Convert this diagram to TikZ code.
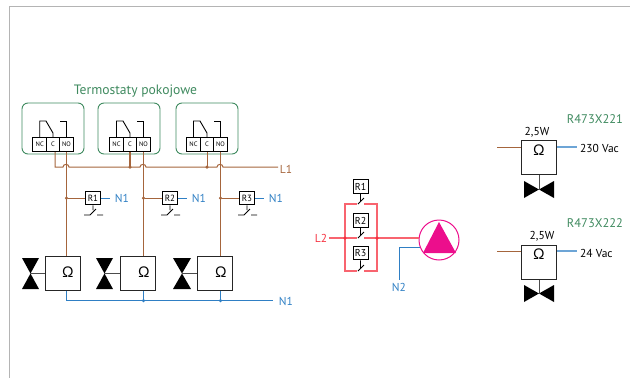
\documentclass[tikz,border=0pt]{standalone}
\usepackage{fontspec}
\setmainfont{PT Sans}
\definecolor{framegrey}{HTML}{B4B4B4}
\definecolor{thermgreen}{HTML}{3F8A5F}
\definecolor{wirebrown}{HTML}{A5653C}
\definecolor{wireblue}{HTML}{2F7FC4}
\definecolor{wirered}{HTML}{F5303F}
\definecolor{pumppink}{HTML}{EC0E8C}
\begin{document}
\begin{tikzpicture}
        [
            x = 1pt,
            y = -1pt,
            thermbox/.style  = {shape=rectangle, draw=thermgreen, line width=.9pt, rounded corners=6pt, minimum width=62pt, minimum height=51pt},
            terminal/.style  = {shape=rectangle, draw, line width=1pt, inner sep=0pt, minimum width=13.5pt, minimum height=14pt, font=\fontsize{6.5}{6.5}\selectfont},
            relay/.style     = {shape=rectangle, draw, line width=1pt, fill=white, inner sep=0pt, minimum width=14.5pt, minimum height=13.5pt, font=\fontsize{9.5}{9.5}\selectfont},
            actuator/.style  = {shape=rectangle, draw=black!85, line width=1pt, fill=white, inner sep=0pt, minimum width=35pt, minimum height=34pt},
            omega/.style     = {inner sep=0pt, font=\fontsize{15}{15}\selectfont},
            blabel/.style    = {inner sep=0pt, text=wirebrown, font=\fontsize{11.5}{11.5}\selectfont},
            nlabel/.style    = {inner sep=0pt, text=wireblue, font=\fontsize{11.5}{11.5}\selectfont},
            rlabel/.style    = {inner sep=0pt, text=wirered, font=\fontsize{11.5}{11.5}\selectfont},
            glabel/.style    = {inner sep=0pt, text=thermgreen, font=\fontsize{12.5}{12.5}\selectfont},
            plabel/.style    = {inner sep=0pt, font=\fontsize{11.5}{11.5}\selectfont},
            brownw/.style    = {draw=wirebrown, line width=1pt},
            bluew/.style     = {draw=wireblue, line width=1pt},
            redw/.style      = {draw=wirered!75, line width=1.2pt},
            blackw/.style    = {draw, line width=.9pt},
            stem/.style      = {draw=black!70, line width=1pt},
            jdot/.style      = {shape=circle, inner sep=0pt, minimum size=3.5pt},
            ]
            \useasboundingbox (0,0) rectangle (630,378);
            \draw [framegrey, line width=1pt] (9.5,378) -- (9.5,6) -- (630,6);

            % thermostats
            \node [glabel, font=\fontsize{13.6}{13.6}\selectfont] (title) at (135.5,91) {Termostaty pokojowe};
            \node [thermbox] (th1) at (53,128.5) {};
            \node [thermbox] (th2) at (129,128.5) {};
            \node [thermbox] (th3) at (207,128.5) {};
            \node [terminal] (nc1) at (39.7,144.5) {NC};
            \node [terminal] (c1) at (53,144.5) {C};
            \node [terminal] (no1) at (66.5,144.5) {NO};
            \node [terminal] (nc2) at (116.5,144.5) {NC};
            \node [terminal] (c2) at (130,144.5) {C};
            \node [terminal] (no2) at (143.5,144.5) {NO};
            \node [terminal] (nc3) at (193.5,144.5) {NC};
            \node [terminal] (c3) at (207,144.5) {C};
            \node [terminal] (no3) at (220.5,144.5) {NO};
            \draw [blackw] (nc1.north) |- (46,121) -- (53,133) -- (c1.north);
            \draw [blackw] (no1.north) |- (59.5,121);
            \draw [blackw] (nc2.north) |- (123,121) -- (130,133) -- (c2.north);
            \draw [blackw] (no2.north) |- (136.5,121);
            \draw [blackw] (nc3.north) |- (200,121) -- (207,133) -- (c3.north);
            \draw [blackw] (no3.north) |- (213.5,121);

            % actuators
            \node [actuator] (act1) at (62.5,273) {};
            \node [actuator] (act2) at (137.5,273) {};
            \node [actuator] (act3) at (214.5,273) {};
            \node [omega] (om1) at (68,272) {Ω};
            \node [omega] (om2) at (144,272) {Ω};
            \node [omega] (om3) at (221,272) {Ω};
            \coordinate (v1) at (30.5,273);
            \coordinate (v2) at (105,273);
            \coordinate (v3) at (182,273);
            \fill (22,258) -- (39,258) -- (22,289) -- (39,289) -- cycle;
            \fill (96,258) -- (113,258) -- (96,289) -- (113,289) -- cycle;
            \fill (173,258) -- (191,258) -- (173,289) -- (191,289) -- cycle;
            \draw [stem] (v1) -- (act1);
            \draw [stem] (v2) -- (act2);
            \draw [stem] (v3) -- (act3);

            % L1 with hops
            \coordinate (l1end) at (278,167);
            \node [blabel] (l1) at (286,169) {L1};
            \draw [brownw] (c1.south) ++(2,0) |- (63,167) .. controls (63,163.5) and (69,163.5) .. (69,167)
                -- (140,167) .. controls (140,163.5) and (146,163.5) .. (146,167)
                -- (217,167) .. controls (217,163.5) and (223,163.5) .. (223,167) -- (l1end);
            \draw [brownw, line width=1.5pt] (c2.south) -- (130,167) node [jdot, fill=wirebrown] (j2) {};
            \draw [brownw] (c3.south) -- (207,167) node [jdot, fill=wirebrown] (j3) {};

            % relays on N1
            \node [relay, font=\fontsize{9}{9}\selectfont] (r1) at (93,198) {R1};
            \node [relay, font=\fontsize{9}{9}\selectfont] (r2) at (170,198) {R2};
            \node [relay, font=\fontsize{9}{9}\selectfont] (r3) at (247,198) {R3};
            \node [nlabel] (n1a) at (122,198) {N1};
            \node [nlabel] (n1b) at (199,198) {N1};
            \node [nlabel] (n1c) at (276,198) {N1};
            \draw [bluew, shorten >=5pt] (r1) -- (n1a.west);
            \draw [bluew, shorten >=5pt] (r2) -- (n1b.west);
            \draw [bluew, shorten >=5pt] (r3) -- (n1c.west);
            \draw [brownw] (no1.south) -- (act1.north -| no1) ;
            \draw [brownw] (no2.south) -- (act2.north -| no2) ;
            \draw [brownw] (no3.south) -- (act3.north -| no3) ;
            \node [jdot, fill=wirebrown] (d1) at (66.5,198) {};
            \node [jdot, fill=wirebrown] (d2) at (143.5,198) {};
            \node [jdot, fill=wirebrown] (d3) at (220.5,198) {};
            \draw [brownw] (d1) -- (r1);
            \draw [brownw] (d2) -- (r2);
            \draw [brownw] (d3) -- (r3);
            \draw [blackw] (r1.south) -- (93,210) (84,215) -- (90,215) -- (96,209) (97,215) -- (103,215);
            \draw [blackw] (r2.south) -- (170,210) (161,215) -- (167,215) -- (173,209) (174,215) -- (180,215);
            \draw [blackw] (r3.south) -- (247,210) (238,215) -- (244,215) -- (250,209) (251,215) -- (257,215);

            % N1 return
            \coordinate (n1end) at (273,300.5);
            \node [nlabel] (n1d) at (286,301) {N1};
            \draw [bluew] (act1.south -| no1) |- (n1end);
            \draw [bluew] (act2.south -| no2) -- (143.5,300.5) node [jdot, fill=wireblue] (j4) {};
            \draw [bluew] (act3.south -| no3) -- (220.5,300.5) node [jdot, fill=wireblue] (j5) {};

            % pump with L2 relays
            \node [relay, minimum width=15pt, font=\fontsize{10}{10}\selectfont] (p1) at (360.5,186.5) {R1};
            \node [relay, minimum width=15pt, font=\fontsize{10}{10}\selectfont] (p2) at (360.5,220.5) {R2};
            \node [relay, minimum width=15pt, font=\fontsize{10}{10}\selectfont] (p3) at (360.5,253) {R3};
            \node [rlabel] (l2) at (321,238) {L2};
            \node [shape=circle, draw=pumppink, line width=1pt, minimum size=40pt, inner sep=0pt] (pump) at (439,240) {};
            \fill [pumppink] (439,222) -- (456,253) -- (423,253) -- cycle;
            \coordinate (sl) at (345,238);
            \coordinate (sr) at (377,238);
            \draw [redw] (l2.east) ++(2,0) -- (sl) -- (357,238) (364,238) -- (sr) -- (pump.west |- sr);
            \draw [redw] (357,204) -| (sl) |- (357,271) (364,271) -| (sr) |- (364,204);
            \node [jdot, fill=wirered] (jl) at (sl) {};
            \node [jdot, fill=wirered] (jr) at (sr) {};
            \draw [blackw] (p1.south) -- (360.5,201) (358,204) -- (364,198);
            \draw [blackw] (p2.south) -- (360.5,235) (358,238) -- (364,232);
            \draw [blackw] (p3.south) -- (360.5,268) (358,271) -- (364,265);
            \coordinate (pn) at (419.5,247);
            \node [nlabel] (n2) at (399,287) {N2};
            \draw [bluew, shorten >=3pt] (pn) -| (n2.north);

            % R473X221
            \node [glabel] (mod1) at (595,119) {R473X221};
            \node [plabel] (pw1) at (537,132) {2,5W};
            \node [actuator] (box1) at (539,157.5) {};
            \node [omega] (om4) at (539,150) {Ω};
            \coordinate (in1) at (497,147);
            \coordinate (out1) at (577,147);
            \node [plabel, anchor=west] (v230) at (580,148) {230 Vac};
            \draw [brownw] (in1) -- (box1.west |- in1);
            \draw [bluew, draw=wireblue!70, line width=1.2pt] (box1.east |- out1) -- (out1);
            \fill (524,181) -- (524,198) -- (554,181) -- (554,198) -- cycle;
            \coordinate (v4) at (539,190);
            \draw [stem] (box1.south) -- (v4);

            % R473X222
            \node [glabel] (mod2) at (595,223) {R473X222};
            \node [plabel] (pw2) at (542,236) {2,5W};
            \node [actuator] (box2) at (539,262) {};
            \node [omega] (om5) at (539,254) {Ω};
            \coordinate (in2) at (497,251);
            \coordinate (out2) at (577,251);
            \node [plabel, anchor=west] (v24) at (580,253) {24 Vac};
            \draw [brownw] (in2) -- (box2.west |- in2);
            \draw [bluew, draw=wireblue!70, line width=1.2pt] (box2.east |- out2) -- (out2);
            \fill (524,285) -- (524,302) -- (554,285) -- (554,302) -- cycle;
            \coordinate (v5) at (539,294);
            \draw [stem] (box2.south) -- (v5);
        \end{tikzpicture}
\end{document}
